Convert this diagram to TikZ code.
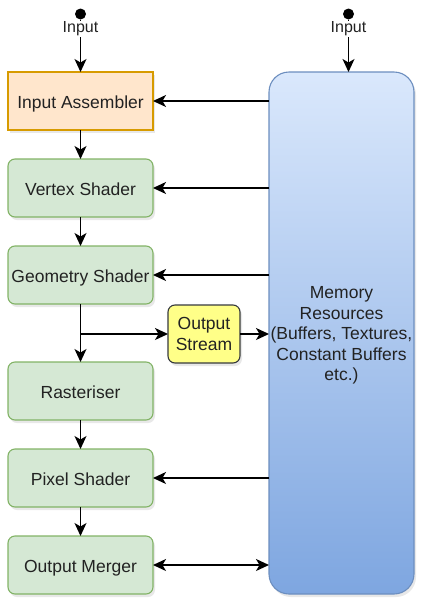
\documentclass[tikz,border=0pt]{standalone}
\usepackage{fontspec}
\setmainfont{Liberation Sans}
\usetikzlibrary{arrows.meta,shadows}
\definecolor{asmfill}{HTML}{FFE6CC}
\definecolor{asmedge}{HTML}{D79B00}
\definecolor{stagefill}{HTML}{D5E8D4}
\definecolor{stageedge}{HTML}{82B366}
\definecolor{memtop}{HTML}{DAE8FC}
\definecolor{membot}{HTML}{7EA6E0}
\definecolor{memedge}{HTML}{6C8EBF}
\definecolor{streamfill}{HTML}{FFFF88}
\definecolor{streamedge}{HTML}{36393D}
\definecolor{txt}{HTML}{222222}
\begin{document}
\begin{tikzpicture}[x=1pt, y=-1pt, inner sep=0pt, outer sep=0pt,
  boxshadow/.style={drop shadow={opacity=0.18, shadow xshift=2pt, shadow yshift=-3pt}},
  stage/.style={draw=stageedge, fill=stagefill, line width=1.1pt, rounded corners=7pt,
    minimum width=145pt, minimum height=58pt, text=txt, text height=17pt, text depth=2.4pt,
    font=\fontsize{17.5}{20}\selectfont, boxshadow},
  asm/.style={stage, draw=asmedge, fill=asmfill, rounded corners=0pt},
  mem/.style={draw=memedge, top color=memtop, bottom color=membot, line width=1.1pt,
    rounded corners=20pt, minimum width=145pt, minimum height=522pt, text=txt,
    font=\fontsize{17.5}{20.5}\selectfont, boxshadow},
  stream/.style={draw=streamedge, fill=streamfill, line width=1.1pt, rounded corners=7pt,
    minimum width=72pt, minimum height=58pt, text=txt, align=center,
    font=\fontsize{17.5}{21}\selectfont, boxshadow},
  dot/.style={circle, fill=black, minimum size=11pt},
  inlabel/.style={fill=white, inner sep=1.2pt, text=txt, font=\fontsize{16}{18}\selectfont},
  arr/.style={line width=1.3pt, -{Stealth[length=13pt, width=12pt, inset=3.5pt]}},
  barr/.style={line width=1.3pt, {Stealth[length=13pt, width=12pt, inset=3.5pt]}-{Stealth[length=13pt, width=12pt, inset=3.5pt]}}]
\useasboundingbox (0,0) rectangle (423,603);

\node[mem] (memory) at (341.5,333) {\raisebox{-2.5pt}[\height][\depth]{\begin{tabular}{@{}c@{}}Memory\\Resources\\(Buffers, Textures,\\Constant Buffers\\etc.)\end{tabular}}};
\node[asm] (assembler) at (80.5,101) {Input Assembler};
\node[stage] (vertex) at (80.5,188) {Vertex Shader};
\node[stage] (geometry) at (80.5,275) {Geometry Shader};
\node[stage] (raster) at (80.5,391) {Rasteriser};
\node[stage] (pixel) at (80.5,478) {Pixel Shader};
\node[stage] (merger) at (80.5,565) {Output Merger};
\node[stream] (stream) at (204,334) {Output\\Stream};

\node[dot] (inA) at (80.5,14) {};
\node[dot] (inB) at (348.5,14) {};
\draw[arr] (inA) -- (assembler);
\draw[arr] (inB) -- (inB |- memory.north);
\node[inlabel] (inAlabel) at (80.5,29) {Input};
\node[inlabel] (inBlabel) at (348.5,29) {Input};

\draw[arr] (assembler) -- (vertex);
\draw[arr] (vertex) -- (geometry);
\draw[arr] (geometry) -- (raster);
\draw[arr] (raster) -- (pixel);
\draw[arr] (pixel) -- (merger);
\coordinate (split) at (geometry.south |- stream.west);
\draw[arr] (split) -- (stream.west);
\draw[arr] (stream) -- (memory.west |- stream.east);

\draw[arr] (memory.west |- assembler.east) -- (assembler.east);
\draw[arr] (memory.west |- vertex.east) -- (vertex.east);
\draw[arr] (memory.west |- geometry.east) -- (geometry.east);
\draw[arr] (memory.west |- pixel.east) -- (pixel.east);
\draw[barr] (merger.east) -- (memory.west |- merger.east);
\end{tikzpicture}
\end{document}
